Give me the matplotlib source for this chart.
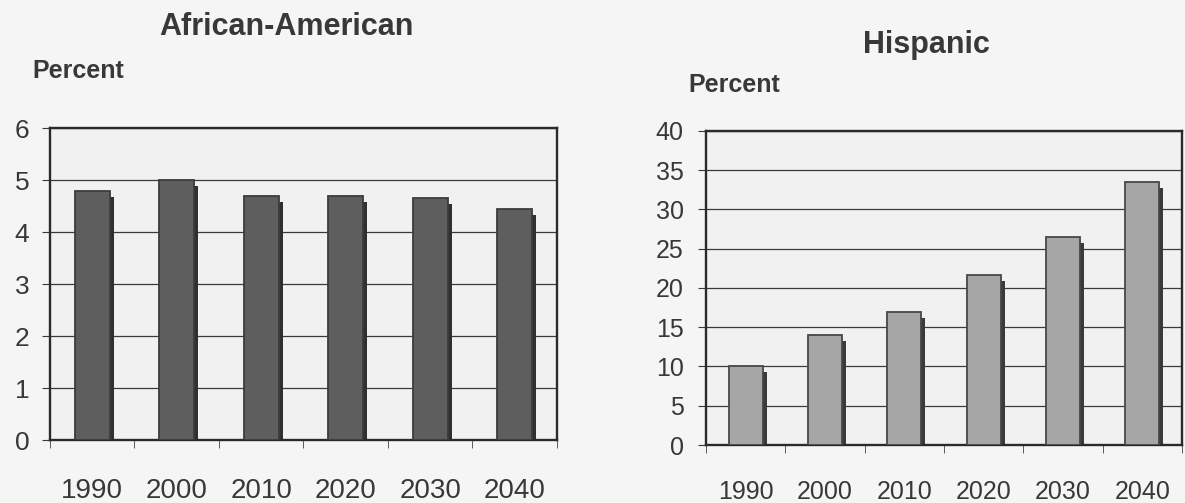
import matplotlib
matplotlib.use("Agg")
import matplotlib.pyplot as plt
import matplotlib.transforms as mtransforms

plt.rcParams["font.family"] = ["Liberation Sans", "DejaVu Sans"]

years = ["1990", "2000", "2010", "2020", "2030", "2040"]
african_american = [4.8, 5.0, 4.7, 4.7, 4.65, 4.45]
hispanic = [10, 14, 17, 21.7, 26.5, 33.5]

TEXT = "#383838"

fig = plt.figure(figsize=(11.85, 5.03), dpi=100)
fig.patch.set_facecolor("#f5f5f5")


def draw_panel(ax, values, ymax, ystep, width, front, edge, shadow,
               xsize, ysize, xpad, ypad):
    ax.set_facecolor("#f1f1f1")
    x = range(len(values))
    # drop shadow: same bars shifted right/down a few pixels
    shift = mtransforms.ScaledTranslation(4 / 100, -6 / 100, fig.dpi_scale_trans)
    ax.bar(x, values, width=width, color=shadow, zorder=2,
           transform=ax.transData + shift)
    ax.bar(x, values, width=width, color=front, edgecolor=edge,
           linewidth=1.3, zorder=3)
    ax.set_xlim(-0.5, len(values) - 0.5)
    ax.set_ylim(0, ymax)
    ax.set_yticks(range(0, ymax + 1, ystep))
    ax.yaxis.grid(True, color="#3a3a3a", linewidth=0.9)
    ax.set_axisbelow(True)
    ax.set_xticks(x)
    ax.set_xticklabels(years)
    ax.set_xticks([i + 0.5 for i in range(-1, len(values))], minor=True)
    ax.tick_params(axis="x", which="major", length=0, pad=xpad,
                   labelsize=xsize, colors=TEXT)
    ax.tick_params(axis="x", which="minor", length=6, color="#444444")
    ax.tick_params(axis="y", length=6, labelsize=ysize, colors=TEXT,
                   pad=ypad)
    for s in ax.spines.values():
        s.set_color("#2a2a2a")
        s.set_linewidth(1.7)


ax1 = fig.add_axes([0.0422, 0.1252, 0.4278, 0.620])
draw_panel(ax1, african_american, 6, 1, 0.41, "#5e5e5e", "#3c3c3c",
           "#303030", 20, 19, 27, 9)

ax2 = fig.add_axes([0.5958, 0.1153, 0.4017, 0.6243])
draw_panel(ax2, hispanic, 40, 5, 0.43, "#a6a6a6", "#474747", "#3a3a3a",
           18, 18, 25, 10)

fig.text(0.242, 0.930, "African-American", ha="center", va="baseline",
         fontsize=22, fontweight="bold", color=TEXT)
fig.text(0.027, 0.845, "Percent", ha="left", va="baseline",
         fontsize=18, fontweight="bold", color=TEXT)
fig.text(0.782, 0.895, "Hispanic", ha="center", va="baseline",
         fontsize=22, fontweight="bold", color=TEXT)
fig.text(0.581, 0.817, "Percent", ha="left", va="baseline",
         fontsize=18, fontweight="bold", color=TEXT)

fig.savefig("out.png", dpi=100, facecolor=fig.get_facecolor())
